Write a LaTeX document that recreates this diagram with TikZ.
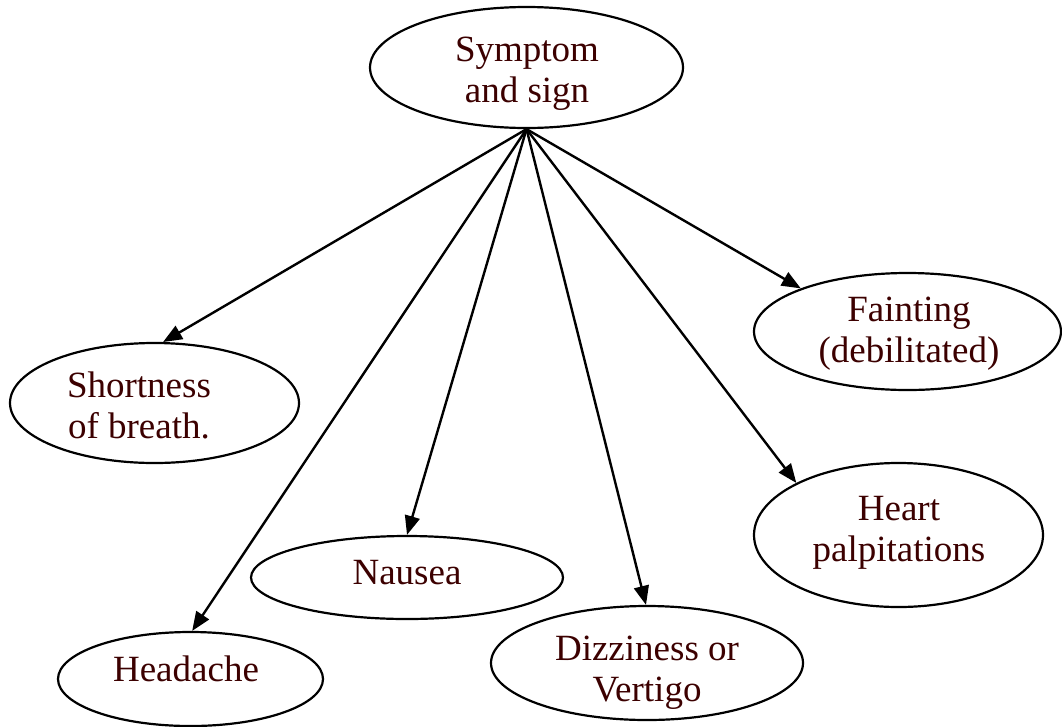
\documentclass[tikz,border=0pt]{standalone}
\usepackage{fontspec}
\setmainfont{Liberation Serif}
\usetikzlibrary{arrows.meta,shapes.geometric}
\definecolor{txtcol}{RGB}{60,0,0}
\tikzset{
  oval/.style={ellipse,draw=black,line width=2.2pt,inner sep=0pt,fill=white},
  lbl/.style={text=txtcol,align=center,inner sep=0pt,font=\fontsize{37}{41}\selectfont},
  conn/.style={line width=2.4pt,-{Triangle[length=19pt,width=15pt]}}
}
\begin{document}
\begin{tikzpicture}[x=1pt,y=-1pt]
\useasboundingbox (0,0) rectangle (1062,726);
% ellipses
\node[oval,minimum width=313pt,minimum height=121pt] (sym) at (526.5,67.5) {};
\node[oval,minimum width=289pt,minimum height=120pt] (short) at (154.5,403) {};
\node[oval,minimum width=265pt,minimum height=94pt] (head) at (190.5,679) {};
\node[oval,minimum width=312pt,minimum height=83pt] (naus) at (407,577.5) {};
\node[oval,minimum width=312pt,minimum height=114pt] (dizz) at (647,663) {};
\node[oval,minimum width=289pt,minimum height=144pt] (heart) at (898.5,535) {};
\node[oval,minimum width=307pt,minimum height=117pt] (faint) at (907.5,331.5) {};
% texts
\node[lbl] (symT) at (527,73.5) {Symptom\\and sign};
\node[lbl] (shortT) at (139,405) {Shortness\\of breath.};
\node[lbl] (headT) at (186,669) {Headache};
\node[lbl] (nausT) at (407,573) {Nausea};
\node[lbl] (dizzT) at (647,672.5) {Dizziness or\\Vertigo};
\node[lbl] (heartT) at (899,533) {Heart\\palpitations};
\node[lbl] (faintT) at (909,334) {Fainting\\(debilitated)};
% connectors
\draw[conn] (sym.south) -- (short.82);
\draw[conn] (sym.south) -- (head.88);
\draw[conn] (sym.south) -- (naus.north);
\draw[conn] (sym.south) -- (dizz.91);
\draw[conn] (sym.south) -- (heart.153);
\draw[conn] (sym.south) -- (faint.158);
\end{tikzpicture}
\end{document}
